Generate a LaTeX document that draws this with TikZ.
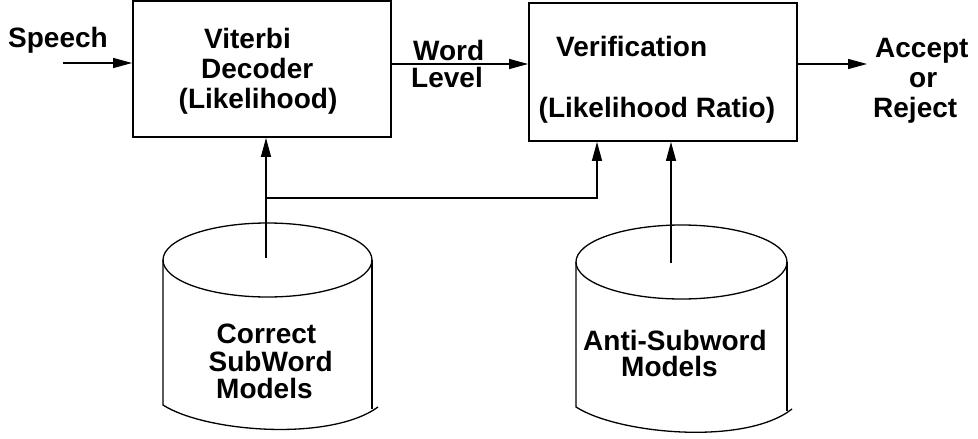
\documentclass[tikz,border=0pt]{standalone}
\usepackage{fontspec}
\setmainfont{Liberation Sans}
\usetikzlibrary{arrows.meta}
\tikzset{
  lbl/.style={anchor=base west, inner sep=0pt, font=\bfseries\fontsize{28}{30}\selectfont},
  blk/.style={draw, line width=1.8pt, inner sep=0pt},
  arr/.style={line width=1.3pt, -{Triangle[length=19pt,width=10pt]}},
  db/.style={line width=1.3pt}
}
\begin{document}
\begin{tikzpicture}[x=1pt,y=-1pt]
\useasboundingbox (0,0) rectangle (978,439);
% boxes
\node[blk, minimum width=258pt, minimum height=136pt] (vit) at (262,69) {};
\node[blk, minimum width=268pt, minimum height=138pt] (ver) at (663,72) {};
% texts
\node[lbl] (tspeech) at (8,47) {Speech};
\node[lbl] (tvit1) at (204,48.5) {Viterbi};
\node[lbl] (tvit2) at (201,78.5) {Decoder};
\node[lbl] (tvit3) at (178.5,108) {(Likelihood)};
\node[lbl] (tword) at (413,60.5) {Word};
\node[lbl] (tlevel) at (411,87.5) {Level};
\node[lbl] (tver1) at (556,56.5) {Verification};
\node[lbl] (tver2) at (538.5,117) {(Likelihood Ratio)};
\node[lbl] (tacc) at (875,57) {Accept};
\node[lbl] (tor) at (909,87.5) {or};
\node[lbl] (trej) at (873,117) {Reject};
\node[lbl] (tc1) at (216.5,343) {Correct};
\node[lbl] (tc2) at (208.5,371.5) {SubWord};
\node[lbl] (tc3) at (216,398) {Models};
\node[lbl] (ta1) at (583,350) {Anti-Subword};
\node[lbl] (ta2) at (621,376) {Models};
% cylinders
\draw[db] (267.5,260) ellipse [x radius=104.5, y radius=37];
\draw[db] (163,260) -- (163,405) .. controls (205,432) and (330,442) .. (378,407);
\draw[db] (372,260) -- (372,409);
\draw[db] (681.5,262) ellipse [x radius=105.5, y radius=37];
\draw[db] (576,262) -- (576,407) .. controls (618,434) and (745,446) .. (792,409);
\draw[db] (787,262) -- (787,411);
% connectors
\coordinate (sp) at (63,63);
\coordinate (outp) at (867,64);
\coordinate (db1top) at (266,258);
\coordinate (db2top) at (671,263);
\coordinate (j1) at (266,198);
\coordinate (j2) at (597,198);
\draw[arr] (sp) -- (vit.west |- sp);
\draw[arr] (vit.east |- 0,64) -- (ver.west |- 0,64);
\draw[arr] (ver.east |- outp) -- (outp);
\draw[arr] (db1top) -- (vit.south -| db1top);
\draw[arr] (j1) -- (j2) -- (ver.south -| j2);
\draw[arr] (db2top) -- (ver.south -| db2top);
\end{tikzpicture}
\end{document}
